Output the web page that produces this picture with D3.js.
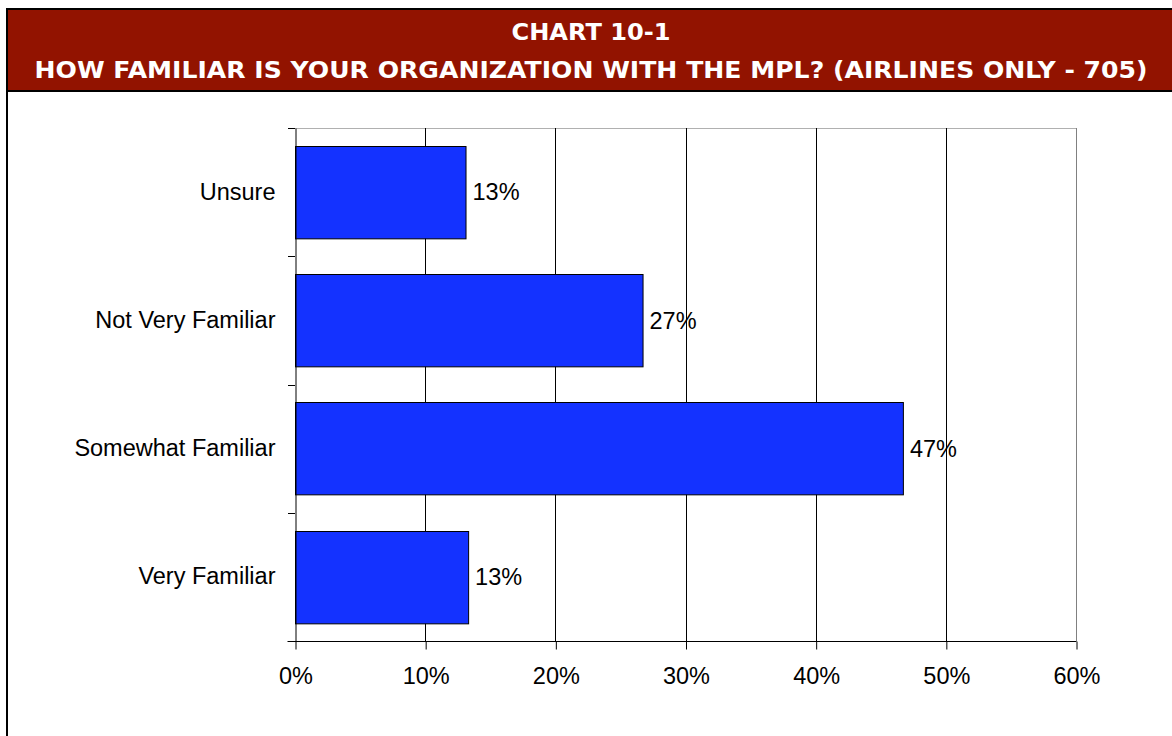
<!DOCTYPE html>
<html>
<head>
<meta charset="utf-8">
<script src="https://cdn.jsdelivr.net/npm/d3@7"></script>
<style>
  html, body { margin: 0; padding: 0; background: #fff; }
  svg { display: block; }
</style>
</head>
<body>
<svg id="chart" width="1172" height="736"></svg>
<script>
const titleLines = ["CHART 10-1", "HOW FAMILIAR IS YOUR ORGANIZATION WITH THE MPL? (AIRLINES ONLY - 705)"];
const categories = ["Unsure", "Not Very Familiar", "Somewhat Familiar", "Very Familiar"];
const values = [13.1, 26.7, 46.7, 13.3];
const valueLabels = ["13%", "27%", "47%", "13%"];
const tickValues = [0, 10, 20, 30, 40, 50, 60];
const tickLabels = ["0%", "10%", "20%", "30%", "40%", "50%", "60%"];

const svg = d3.select("#chart");
const W = 1172, H = 736;

// frame
svg.append("rect").attr("x", 8).attr("y", 10).attr("width", W - 8).attr("height", 80).attr("fill", "#921300");
svg.append("rect").attr("x", 6).attr("y", 8).attr("width", W - 6).attr("height", 2).attr("fill", "#000");
svg.append("rect").attr("x", 6).attr("y", 8).attr("width", 2).attr("height", H - 8).attr("fill", "#000");
svg.append("rect").attr("x", 8).attr("y", 90).attr("width", W - 8).attr("height", 2).attr("fill", "#000");

// titles
const tWidths = [159, 1113];
const tBase = [40, 78];
titleLines.forEach((t, i) => {
  svg.append("text")
    .attr("x", 591).attr("y", tBase[i])
    .attr("text-anchor", "middle")
    .attr("fill", "#fff")
    .style("font-family", "'DejaVu Sans', Verdana, sans-serif")
    .style("font-weight", "bold")
    .style("font-size", "22.5px")
    .attr("textLength", tWidths[i]).attr("lengthAdjust", "spacingAndGlyphs")
    .text(t);
});

const m = { left: 295, right: 1076, top: 128, bottom: 641 };
const x = d3.scaleLinear().domain([0, 60]).range([m.left, m.right]);
const y = d3.scaleBand().domain(categories).range([m.top, m.bottom]).paddingInner(0.28).paddingOuter(0.14);

const font = "'Liberation Sans', Arial, sans-serif";
const fs = "23.5px";

// top border light gray
svg.append("line").attr("x1", m.left).attr("x2", m.right).attr("y1", m.top + 0.5).attr("y2", m.top + 0.5)
  .attr("stroke", "#b0b0b0").attr("stroke-width", 1);

// gridlines
svg.append("g").selectAll("line").data(tickValues.slice(1)).join("line")
  .attr("x1", d => Math.round(x(d)) + 0.5).attr("x2", d => Math.round(x(d)) + 0.5)
  .attr("y1", m.top).attr("y2", m.bottom)
  .attr("stroke", d => d === 60 ? "#808080" : "#000").attr("stroke-width", 1);

// bars
svg.append("g").selectAll("rect").data(categories).join("rect")
  .attr("x", m.left + 0.5)
  .attr("y", d => Math.round(y(d)) + 0.5)
  .attr("width", (d, i) => x(values[i]) - m.left)
  .attr("height", y.bandwidth())
  .attr("fill", "#1432ff")
  .attr("stroke", "#000").attr("stroke-width", 1);

// value labels
svg.append("g").selectAll("text").data(categories).join("text")
  .attr("x", (d, i) => x(values[i]) + 7)
  .attr("y", d => y(d) + y.bandwidth() / 2)
  .attr("dy", "0.35em")
  .style("font-family", font).style("font-size", fs).attr("fill", "#000")
  .text((d, i) => valueLabels[i]);

// y axis
const yAxis = d3.axisLeft(y).tickSize(0).tickPadding(20);
const gy = svg.append("g").attr("transform", `translate(${m.left + 0.5},0)`).call(yAxis);
gy.select(".domain").attr("stroke", "#000");
gy.selectAll("text").style("font-family", font).style("font-size", fs).attr("fill", "#000");
// category boundary ticks
const bounds = d3.range(categories.length + 1).map(i => m.top + i * (m.bottom - m.top) / categories.length);
svg.append("g").selectAll("line").data(bounds).join("line")
  .attr("x1", m.left - 7).attr("x2", m.left)
  .attr("y1", d => Math.round(d) + 0.5).attr("y2", d => Math.round(d) + 0.5)
  .attr("stroke", "#000");

// x axis
const xAxis = d3.axisBottom(x).tickValues(tickValues).tickFormat((d, i) => tickLabels[i]).tickSize(8).tickPadding(18);
const gx = svg.append("g").attr("transform", `translate(0.5,${m.bottom + 0.5})`).call(xAxis);
gx.select(".domain").attr("d", `M${m.left - 8},0H${m.right}`).attr("stroke", "#000");
gx.selectAll(".tick line").attr("stroke", "#000");
gx.selectAll("text").style("font-family", font).style("font-size", fs).attr("fill", "#000");
</script>
</body>
</html>
